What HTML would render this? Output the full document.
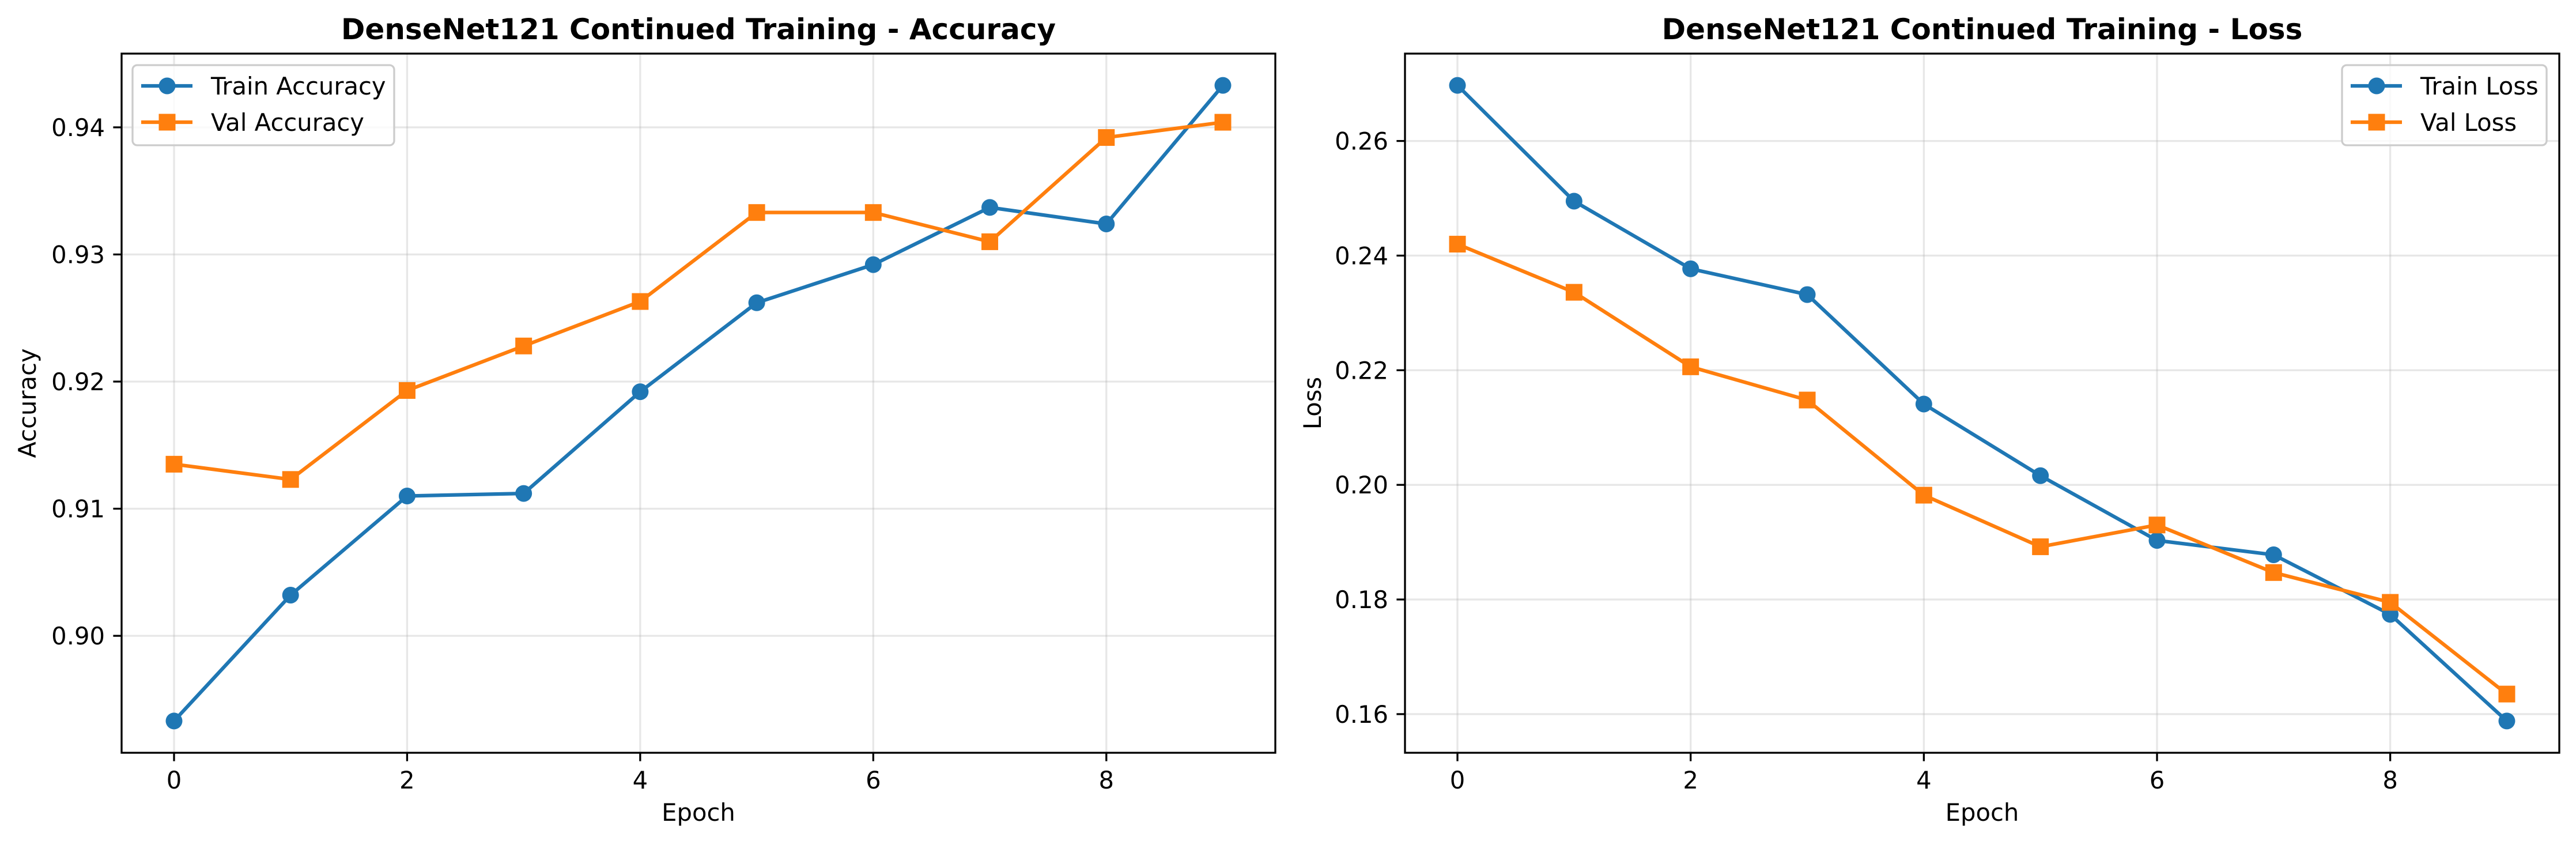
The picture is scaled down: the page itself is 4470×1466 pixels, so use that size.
<!DOCTYPE html>
<html><head><meta charset="utf-8">
<style>
html,body{margin:0;padding:0;background:#fff;}
svg{display:block;font-family:"DejaVu Sans","Liberation Sans",sans-serif;}
</style></head>
<body>
<svg id="fig" width="4470" height="1466" viewBox="0 0 4470 1466" xmlns="http://www.w3.org/2000/svg">
<rect x="0" y="0" width="4470" height="1466" fill="#fff"/>
<g id="accPanel"></g>
<g id="lossPanel"></g>
</svg>
<script>
const epochs = [0,1,2,3,4,5,6,7,8,9];
const xTicks = [0,2,4,6,8];
const trainAcc = [0.8933,0.9032,0.9110,0.9112,0.9192,0.9262,0.9292,0.9337,0.9324,0.9433];
const valAcc = [0.9135,0.9123,0.9193,0.9228,0.9263,0.9333,0.9333,0.9310,0.9392,0.9404];
const accTicks = [0.90,0.91,0.92,0.93,0.94];
const accTickLabels = ["0.90","0.91","0.92","0.93","0.94"];
const trainLoss = [0.2697,0.2495,0.2377,0.2332,0.2141,0.2016,0.1903,0.1878,0.1774,0.1588];
const valLoss = [0.2420,0.2336,0.2206,0.2148,0.1982,0.1892,0.1930,0.1847,0.1795,0.1635];
const lossTicks = [0.16,0.18,0.20,0.22,0.24,0.26];
const lossTickLabels = ["0.16","0.18","0.20","0.22","0.24","0.26"];

const NS = "http://www.w3.org/2000/svg";
const MR = 14.5;
function mk(tag, attrs, parent){
  const e = document.createElementNS(NS, tag);
  for (const k in attrs) e.setAttribute(k, attrs[k]);
  parent.appendChild(e);
  return e;
}
function extent(arrs){
  let mn = Infinity, mx = -Infinity;
  arrs.forEach(a => a.forEach(v => { mn = Math.min(mn, v); mx = Math.max(mx, v); }));
  const m = (mx - mn) * 0.05;
  return [mn - m, mx + m];
}

function panel(g, cfg){
  const L = cfg.left, R = cfg.right, T = 93, B = 1306;
  const xmin = -0.45, xmax = 9.45;
  const [ymin, ymax] = extent([cfg.s1, cfg.s2]);
  const sx = v => L + (v - xmin) / (xmax - xmin) * (R - L);
  const sy = v => B - (v - ymin) / (ymax - ymin) * (B - T);

  xTicks.forEach(t => {
    const l = mk('line', {x1:sx(t), x2:sx(t), y1:T, y2:B, stroke:'#b0b0b0', 'stroke-opacity':0.3, 'stroke-width':3.3}, g);
    
    
  });
  cfg.yt.forEach(t => {
    const l = mk('line', {x1:L, x2:R, y1:sy(t), y2:sy(t), stroke:'#b0b0b0', 'stroke-opacity':0.3, 'stroke-width':3.3}, g);
    
    
  });

  function series(vals, color, marker, name){
    const sg = mk('g', {}, g);
    
    
    const pts = epochs.map((e, i) => sx(e) + ',' + sy(vals[i])).join(' ');
    const pl = mk('polyline', {points:pts, fill:'none', stroke:color, 'stroke-width':6.25, 'stroke-linejoin':'round', 'stroke-linecap':'square'}, sg);
    
    
    epochs.forEach((e, i) => {
      let m;
      if (marker === 'o') m = mk('circle', {cx:sx(e), cy:sy(vals[i]), r:MR, fill:color}, sg);
      else m = mk('rect', {x:sx(e) - MR, y:sy(vals[i]) - MR, width:2*MR, height:2*MR, fill:color}, sg);
      
      
    });
  }
  series(cfg.s1, '#1f77b4', 'o', cfg.n1);
  series(cfg.s2, '#ff7f0e', 's', cfg.n2);

  const sp = mk('rect', {x:L, y:T, width:R - L, height:B - T, fill:'none', stroke:'#000', 'stroke-width':3.3}, g);
  
  

  xTicks.forEach(t => {
    const tl = mk('line', {x1:sx(t), x2:sx(t), y1:B, y2:B + 14.6, stroke:'#000', 'stroke-width':3.3}, g);
    
    
    const tx = mk('text', {x:sx(t), y:1368, 'font-size':41.7, 'text-anchor':'middle', fill:'#000'}, g);
    tx.textContent = String(t);
    
    
  });
  cfg.yt.forEach((t, i) => {
    const tl = mk('line', {x1:L - 14.6, x2:L, y1:sy(t), y2:sy(t), stroke:'#000', 'stroke-width':3.3}, g);
    
    
    const tx = mk('text', {x:L - 29, y:sy(t) + 15, 'font-size':41.7, 'text-anchor':'end', fill:'#000'}, g);
    tx.textContent = cfg.ytl[i];
    
    
  });

  const ti = mk('text', {x:(L + R) / 2, y:68, 'font-size':50, 'font-weight':'bold', 'text-anchor':'middle', fill:'#000'}, g);
  ti.textContent = cfg.title;
  
  
  const xl = mk('text', {x:(L + R) / 2, y:1424, 'font-size':41.7, 'text-anchor':'middle', fill:'#000'}, g);
  xl.textContent = 'Epoch';
  
  
  const yx = cfg.ylx, yy = (T + B) / 2;
  const yl = mk('text', {x:yx, y:yy, 'font-size':41.7, 'text-anchor':'middle', fill:'#000', transform:'rotate(-90 ' + yx + ' ' + yy + ')'}, g);
  yl.textContent = cfg.ylabel;
  
  

  const lg = mk('g', {}, g);
  
  
  const bx = cfg.lgx, bw = cfg.lgw;
  mk('rect', {x:bx, y:113, width:bw, height:139, rx:8, fill:'#fff', 'fill-opacity':0.8, stroke:'#cccccc', 'stroke-width':3.3}, lg);
  [[cfg.n1label, '#1f77b4', 'o', 149], [cfg.n2label, '#ff7f0e', 's', 212]].forEach(([lab, c, m, y]) => {
    const e = mk('g', {}, lg);
    
    
    mk('line', {x1:bx + 15, x2:bx + 104, y1:y, y2:y, stroke:c, 'stroke-width':6.25}, e);
    if (m === 'o') mk('circle', {cx:bx + 60, cy:y, r:MR, fill:c}, e);
    else mk('rect', {x:bx + 60 - MR, y:y - MR, width:2*MR, height:2*MR, fill:c}, e);
    const t = mk('text', {x:bx + 136, y:y + 15, 'font-size':41.7, fill:'#000'}, e);
    t.textContent = lab;
  });
}

panel(document.getElementById('accPanel'), {
  left:211, right:2213, s1:trainAcc, s2:valAcc, yt:accTicks, ytl:accTickLabels,
  n1:'train-accuracy-series', n2:'val-accuracy-series',
  n1label:'Train Accuracy', n2label:'Val Accuracy',
  title:'DenseNet121 Continued Training - Accuracy', ylabel:'Accuracy', ylx:62,
  lgx:230, lgw:454
});
panel(document.getElementById('lossPanel'), {
  left:2438, right:4441, s1:trainLoss, s2:valLoss, yt:lossTicks, ytl:lossTickLabels,
  n1:'train-loss-series', n2:'val-loss-series',
  n1label:'Train Loss', n2label:'Val Loss',
  title:'DenseNet121 Continued Training - Loss', ylabel:'Loss', ylx:2292,
  lgx:4064, lgw:355
});
</script>
</body></html>
